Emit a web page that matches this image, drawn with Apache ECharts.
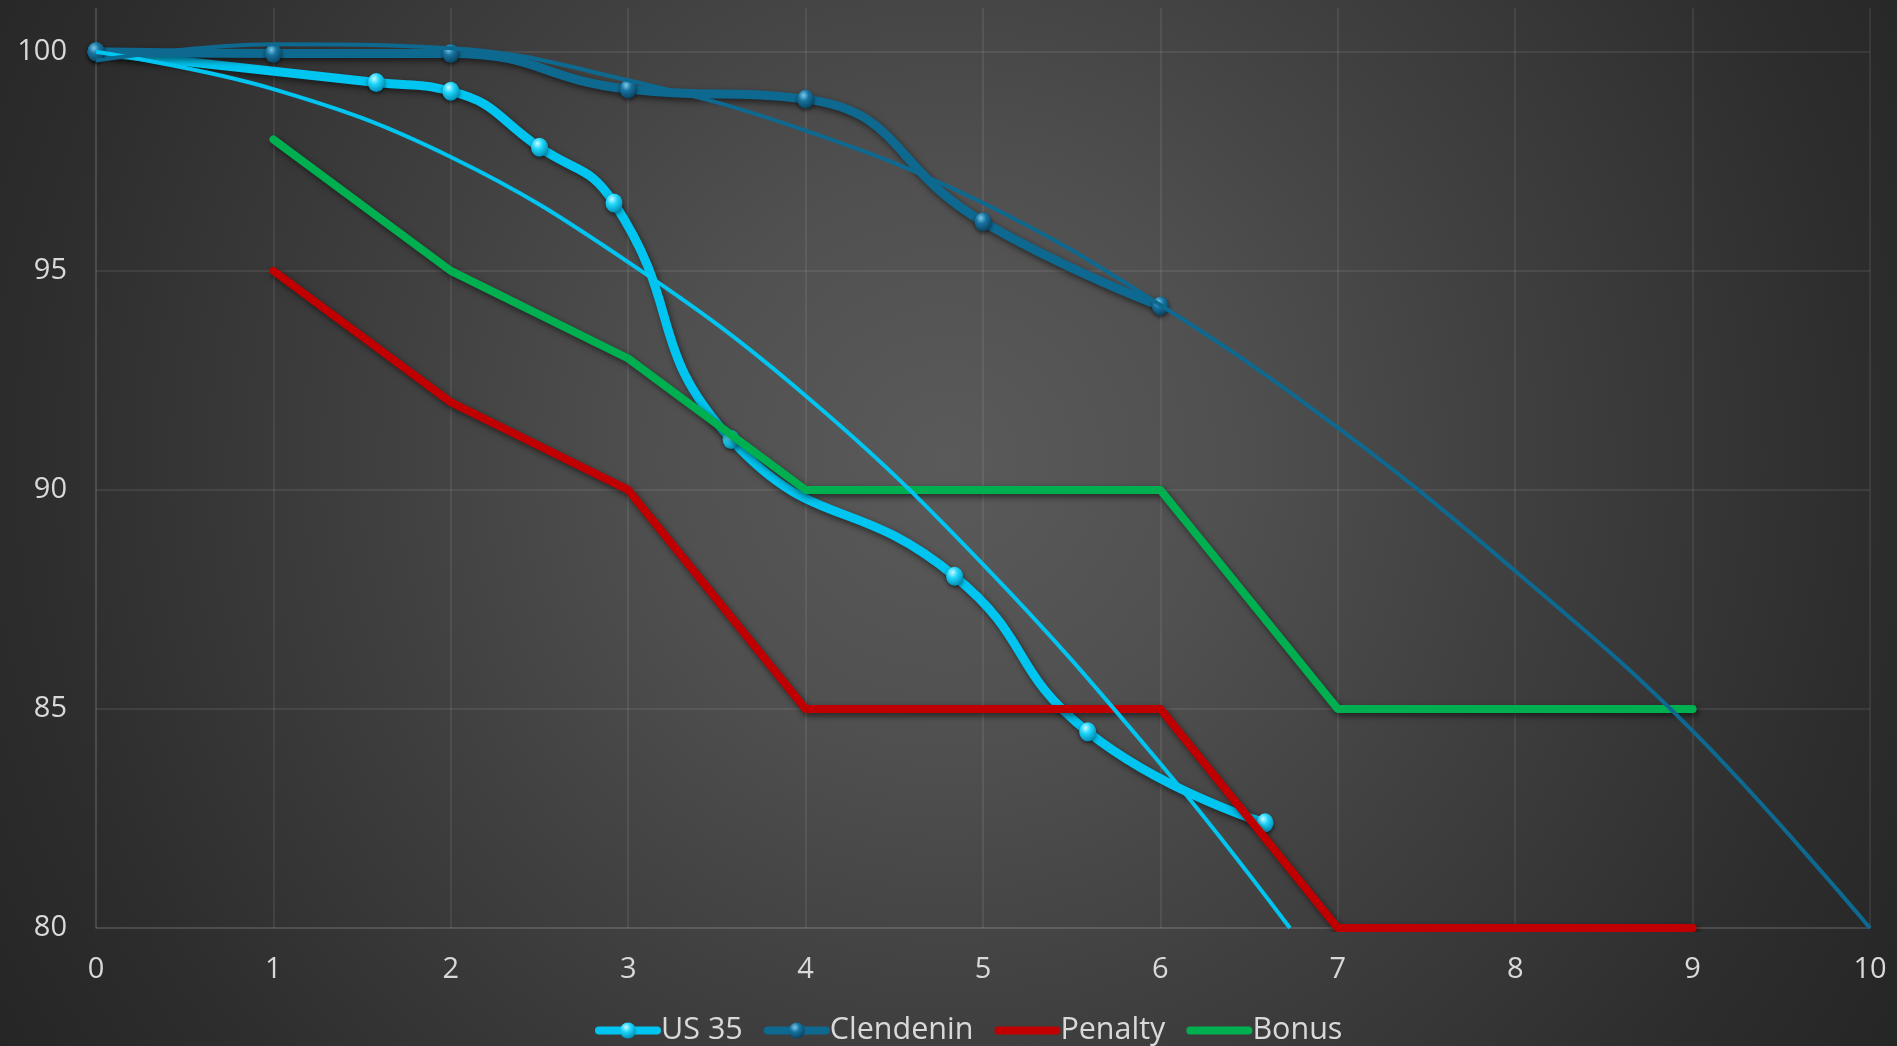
<!DOCTYPE html>
<html>
<head>
<meta charset="utf-8">
<script src="https://cdn.jsdelivr.net/npm/echarts@6/dist/echarts.min.js"></script>
<style>
html,body{margin:0;padding:0;width:1897px;height:1046px;overflow:hidden;}
body{background:radial-gradient(circle at 50% 44%, #5a5a5a 0px, #505050 280px, #404040 560px, #2d2d2d 920px, #262626 1100px);}
#chart{width:1897px;height:1046px;}
</style>
</head>
<body>
<div id="chart"></div>
<script>
// ---- data ----
const xTicks = [0,1,2,3,4,5,6,7,8,9,10];
const yTicks = [80,85,90,95,100];

const us35X = [0, 1.58, 2, 2.5, 2.92, 3.58, 4.84, 5.59, 6.59];
const us35Y = [100, 99.3, 99.1, 97.82, 96.55, 91.15, 88.03, 84.48, 82.4];

const clendeninX = [0, 1, 2, 3, 4, 5, 6];
const clendeninY = [100, 99.96, 99.96, 99.15, 98.92, 96.12, 94.2];

const penaltyX = [1, 2, 3, 4, 5, 6, 7, 8, 9];
const penaltyY = [95, 92, 90, 85, 85, 85, 80, 80, 80];

const bonusX = [1, 2, 3, 4, 5, 6, 7, 8, 9];
const bonusY = [98, 95, 93, 90, 90, 90, 85, 85, 85];

// trend lines
const us35TrendX = [0, 1, 2, 3, 4, 5, 6, 6.73];
const us35TrendY = [100, 99.15, 97.6, 95.2, 92.15, 88.3, 83.75, 80];

const clendeninTrendX = [0, 1, 2, 3, 4, 5, 6, 7, 8, 9, 10];
const clendeninTrendY = [99.8, 100.17, 100.08, 99.35, 98.2, 96.55, 94.22, 91.42, 88.15, 84.5, 80.0];

const legendNames = ['US 35', 'Clendenin', 'Penalty', 'Bonus'];

// ---- colours / styles ----
const C_US35 = '#00C5F0';
const C_CLEN = '#0E6991';
const C_PEN = '#C00000';
const C_BON = '#00B050';
const TEXT = '#d9d9d9';
const FONT = '"Open Sans", sans-serif';

function pairs(xs, ys){ return xs.map((x,i)=>[x, ys[i]]); }

function sphere(light, mid, dark){
  return {type:'radial', x:0.38, y:0.3, r:0.75, colorStops:[
    {offset:0, color:light},{offset:0.4, color:mid},{offset:1, color:dark}]};
}

const lineShadow = {shadowColor:'rgba(0,0,0,0.55)', shadowBlur:6, shadowOffsetX:2, shadowOffsetY:3};

const chart = echarts.init(document.getElementById('chart'), null, {renderer:'canvas'});

const legendData = legendNames.map((n, i) => i < 2
  ? {name: n}
  : {name: n, itemStyle: {opacity: 0}});

const option = {
  backgroundColor: 'transparent',
  animation: false,
  grid: {left: 96, right: 27, top: 8, bottom: 118, containLabel: false},
  legend: {
    data: legendData,
    bottom: -5,
    left: 590,
    itemWidth: 58,
    itemHeight: 20,
    itemGap: 21,
    lineStyle: {width: 8},
    textStyle: {color: TEXT, fontSize: 30.5, fontFamily: FONT, padding:[0,0,0,-1]},
  },
  xAxis: {
    type: 'value',
    min: xTicks[0], max: xTicks[xTicks.length-1], interval: 1,
    axisLine: {show: true, lineStyle: {color: 'rgba(255,255,255,0.1)', width: 1.5}},
    axisTick: {show: false},
    axisLabel: {color: TEXT, fontSize: 29, fontFamily: FONT, margin: 27,
      formatter: v => xTicks.includes(v) ? String(v) : ''},
    splitLine: {show: true, lineStyle: {color: 'rgba(255,255,255,0.1)', width: 1.5}}
  },
  yAxis: {
    type: 'value',
    min: yTicks[0], max: 101, interval: 5,
    axisLine: {show: true, lineStyle: {color: 'rgba(255,255,255,0.1)', width: 1.5}},
    axisTick: {show: false},
    axisLabel: {color: TEXT, fontSize: 29, fontFamily: FONT, margin: 29, showMaxLabel: false,
      formatter: v => yTicks.includes(v) ? String(v) : ''},
    splitLine: {show: true, showMaxLine: false, lineStyle: {color: 'rgba(255,255,255,0.1)', width: 1.5}}
  },
  series: [
    {
      name: 'US 35', type: 'line', data: pairs(us35X, us35Y), smooth: 0.5,
      symbol: 'circle', symbolSize: [17, 19], showSymbol: true, z: 3, clip: false,
      lineStyle: Object.assign({color: C_US35, width: 9, cap: 'round', join: 'round'}, lineShadow),
      itemStyle: {color: sphere('#c6f9ff', '#1fd6fb', '#0089b0'), shadowColor:'rgba(0,0,0,0.5)', shadowBlur:4, shadowOffsetY:2}
    },
    {
      name: 'Clendenin', type: 'line', data: pairs(clendeninX, clendeninY), smooth: 0.5,
      symbol: 'circle', symbolSize: [17, 19], showSymbol: true, z: 3, clip: false,
      lineStyle: Object.assign({color: C_CLEN, width: 9, cap: 'round', join: 'round'}, lineShadow),
      itemStyle: {color: sphere('#7cc8ea', '#17739f', '#083f5c'), shadowColor:'rgba(0,0,0,0.5)', shadowBlur:4, shadowOffsetY:2}
    },
    {
      name: 'Penalty', type: 'line', data: pairs(penaltyX, penaltyY),
      symbol: 'none', z: 4,
      lineStyle: Object.assign({color: C_PEN, width: 8, cap: 'round', join: 'round'}, lineShadow),
      itemStyle: {color: C_PEN}
    },
    {
      name: 'Bonus', type: 'line', data: pairs(bonusX, bonusY),
      symbol: 'none', z: 4,
      lineStyle: Object.assign({color: C_BON, width: 8, cap: 'round', join: 'round'}, lineShadow),
      itemStyle: {color: C_BON}
    },
    {
      name: 'US 35 trend', type: 'line', data: pairs(us35TrendX, us35TrendY), smooth: 0.4,
      symbol: 'none', z: 5,
      lineStyle: {color: C_US35, width: 4},
      itemStyle: {color: C_US35}
    },
    {
      name: 'Clendenin trend', type: 'line', data: pairs(clendeninTrendX, clendeninTrendY), smooth: 0.4,
      symbol: 'none', z: 5,
      lineStyle: {color: C_CLEN, width: 4},
      itemStyle: {color: C_CLEN}
    }
  ]
};
chart.setOption(option);
</script>
</body>
</html>
